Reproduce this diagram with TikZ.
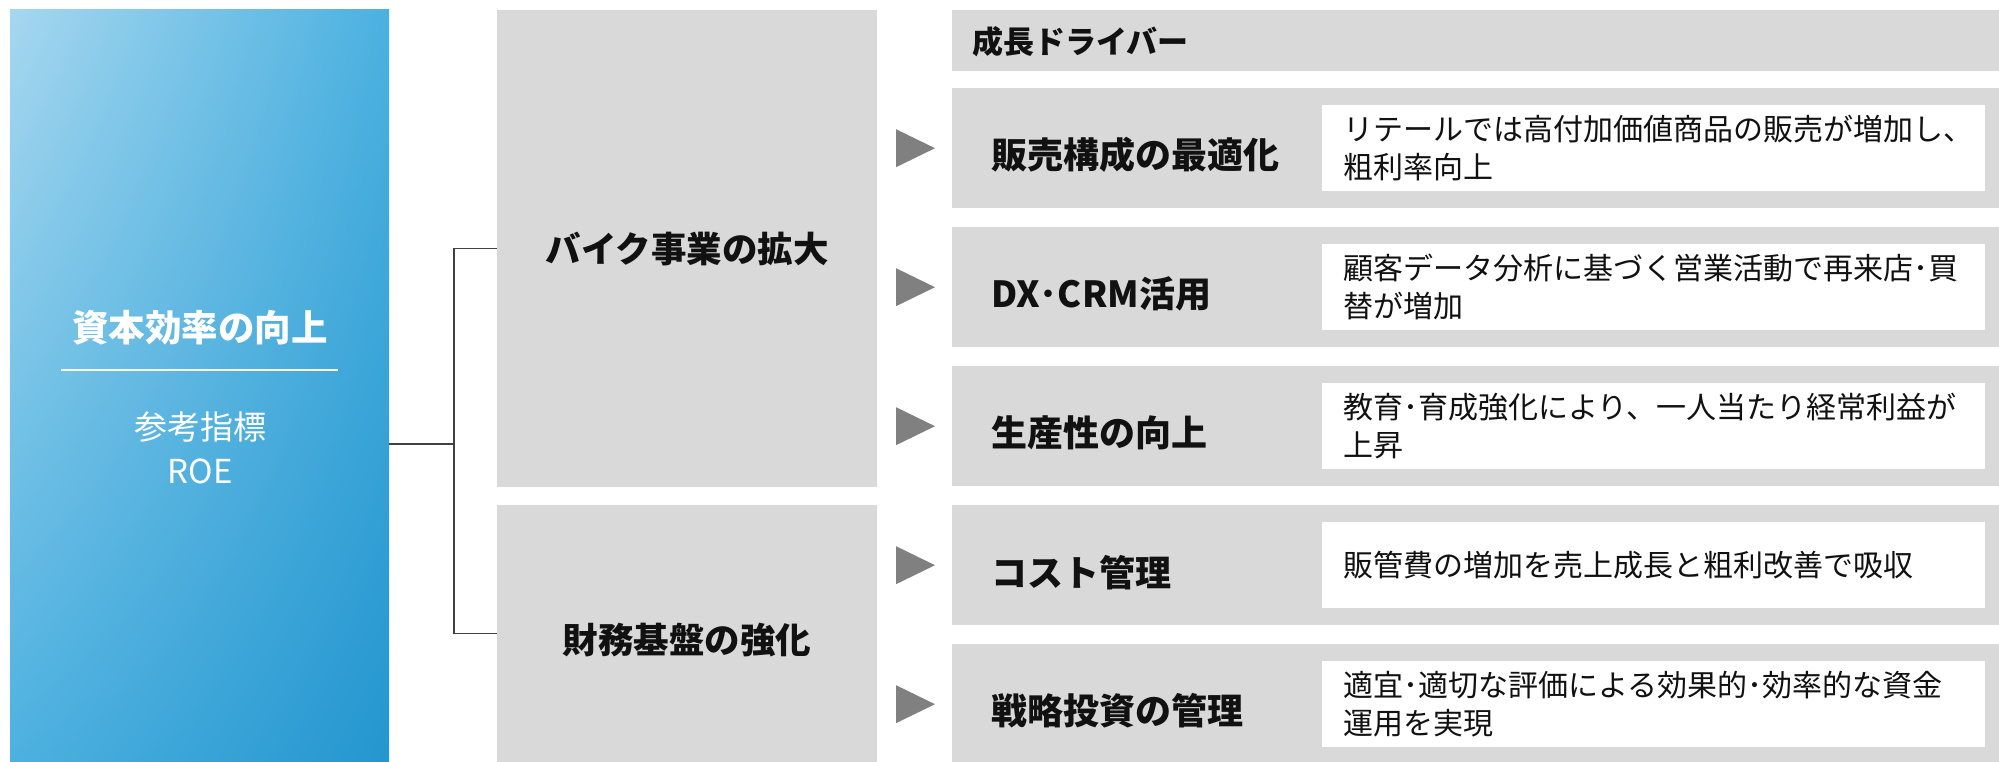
\documentclass[tikz,border=0pt]{standalone}
\usepackage{fontspec}
\setmainfont{Noto Sans CJK JP}
\usetikzlibrary{calc,shadings}
\definecolor{boxgray}{HTML}{D9D9D9}
\definecolor{trigray}{HTML}{808080}
\definecolor{conngray}{HTML}{404040}
\definecolor{bTL}{HTML}{A6D7EF}
\definecolor{bTR}{HTML}{4BB1E0}
\definecolor{bBL}{HTML}{4DB1E0}
\definecolor{bBR}{HTML}{2496CF}
\definecolor{txt}{HTML}{111111}
\begin{document}
\begin{tikzpicture}[x=1pt,y=-1pt,
  gbox/.style={fill=boxgray, draw=none, inner sep=0pt, anchor=north west},
  wbox/.style={fill=white, draw=none, inner sep=0pt, anchor=north west, minimum width=663pt, minimum height=86pt},
  rowbox/.style={gbox, minimum width=1047pt, minimum height=120pt},
  midbox/.style={gbox, minimum width=380pt},
  midtxt/.style={font=\fontsize{35.5}{42}\selectfont\bfseries, text=txt},
  rowlbl/.style={anchor=west, inner sep=0pt, font=\fontsize{36}{42}\selectfont\bfseries, text=txt},
  desc/.style={anchor=west, inner sep=0pt, align=left, font=\fontsize{30}{38}\selectfont, text=txt},
  conn/.style={draw=conngray, line width=1.2pt},
  tri/.style={fill=trigray, draw=none}
]
\useasboundingbox (0,0) rectangle (1999,762);
% left blue panel
\shade[upper left=bTL, upper right=bTR, lower left=bBL, lower right=bBR] (10,10) rectangle (389,762);
\node[inner sep=0pt, minimum width=379pt, minimum height=752pt, anchor=north west] (goal) at (10,10) {};
\node[text=white, font=\fontsize{36.5}{42}\selectfont\bfseries] (gtitle) at (200,328) {資本効率の向上};
\draw[white, line width=1.5pt] (61,370) -- (338,370);
\node[text=white, font=\fontsize{33}{44}\selectfont, align=center] (gsub) at (200,448) {参考指標\\ROE};
% middle boxes
\node[midbox, minimum height=477pt] (bA) at (497,10) {};
\node[midtxt] at (bA) {バイク事業の拡大};
\node[midbox, minimum height=257pt] (bB) at (497,505) {};
\node[midtxt] at ($(bB.center)+(0,6)$) {財務基盤の強化};
% connectors
\coordinate (j) at (454,444);
\draw[conn] (goal.east |- j) -- (j);
\draw[conn] (bA.west) -| (j) |- (bB.west);
% header
\node[gbox, minimum width=1047pt, minimum height=61pt] (hdr) at (952,10) {};
\node[anchor=west, inner sep=0pt, font=\fontsize{31}{36}\selectfont\bfseries, text=txt] at (972,42) {成長ドライバー};
% rows
\foreach \i/\lbl/\dsc in {
  0/販売構成の最適化/{リテールでは高付加価値商品の販売が増加し、\\粗利率向上},
  1/DX･CRM活用/{顧客データ分析に基づく営業活動で再来店･買\\替が増加},
  2/生産性の向上/{教育･育成強化により、一人当たり経常利益が\\上昇},
  3/コスト管理/{販管費の増加を売上成長と粗利改善で吸収},
  4/戦略投資の管理/{適宜･適切な評価による効果的･効率的な資金\\運用を実現}} {
  \node[rowbox] (r\i) at (952,{88+139*\i}) {};
  \node[rowlbl] (l\i) at ($(r\i.west)+(39,7)$) {\lbl};
  \node[wbox] (w\i) at (1322,{105+139*\i}) {};
  \node[desc] (d\i) at ($(w\i.west)+(21,0)$) {\dsc};
  \fill[tri] ($(r\i.west)+(-56,-19)$) -- ($(r\i.west)+(-17,0)$) -- ($(r\i.west)+(-56,19)$) -- cycle;
}
\end{tikzpicture}
\end{document}
